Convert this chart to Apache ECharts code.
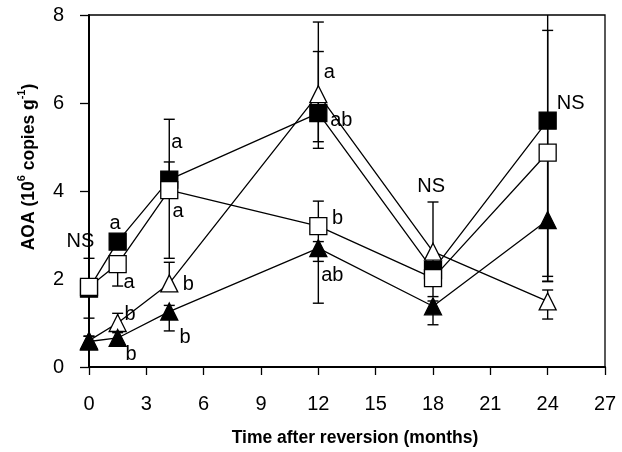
<!DOCTYPE html>
<html>
<head>
<meta charset="utf-8">
<script src="https://cdn.jsdelivr.net/npm/echarts@6/dist/echarts.min.js"></script>
<style>
html,body{margin:0;padding:0;background:#fff;}
#chart{width:622px;height:452px;}
</style>
</head>
<body>
<div id="chart"></div>
<script>
// ---- data ----
const months = [0, 1.5, 4.2, 12, 18, 24];
const xTicks = [0, 3, 6, 9, 12, 15, 18, 21, 24, 27];
const yTicks = [0, 2, 4, 6, 8];

const filledSquare   = [1.78, 2.85, 4.26, 5.77, 2.20, 5.60];
const openSquare     = [1.82, 2.34, 4.02, 3.20, 2.02, 4.87];
const openTriangle   = [0.60, 1.00, 1.90, 6.20, 2.62, 1.49];
const filledTriangle = [0.58, 0.66, 1.26, 2.70, 1.38, 3.34];

// error bar ends (upper / lower)
const filledSquareHi   = [2.47, 3.00, 4.66, 7.17, 2.50, 9.20];
const filledSquareLo   = [1.11, 2.70, 3.90, 4.97, 1.60, 2.06];
const openSquareHi     = [1.95, 2.50, 5.63, 3.77, 2.15, 7.65];
const openSquareLo     = [1.68, 1.84, 2.47, 2.40, 1.88, 1.95];
const openTriangleHi   = [0.70, 1.22, 2.38, 7.84, 3.75, 1.75];
const openTriangleLo   = [0.50, 0.85, 1.75, 5.12, 2.50, 1.09];
const filledTriangleHi = [0.70, 0.78, 1.40, 2.85, 1.50, 4.74];
const filledTriangleLo = [0.50, 0.55, 0.82, 1.45, 0.96, 1.94];

const noteText = ['NS', 'a', 'a', 'b', 'b', 'a', 'a', 'b', 'b', 'a', 'ab', 'b', 'ab', 'NS', 'NS'];
const noteX    = [-0.45, 1.36, 2.10, 2.15, 2.20, 4.60, 4.66, 5.20, 5.03, 12.57, 13.20, 13.00, 12.73, 17.90, 25.20];
const noteY    = [2.86, 3.27, 1.93, 1.20, 0.29, 5.10, 3.54, 1.88, 0.66, 6.69, 5.60, 3.38, 2.09, 4.10, 5.99];

const xName = 'Time after reversion (months)';
const yMax = 8;

// ---- build ----
function errSeries(hi, lo) {
  return {
    type: 'custom',
    z: 1,
    clip: false,
    silent: true,
    encode: { x: 0, y: [1, 2] },
    data: months.map((m, i) => [m, lo[i], hi[i]]),
    renderItem: function (params, api) {
      const x = api.value(0), l = api.value(1), h = api.value(2);
      const top = Math.min(h, yMax), bot = Math.max(l, 0);
      const pt = api.coord([x, top]), pb = api.coord([x, bot]);
      const w = 5.5;
      const st = { stroke: '#000', lineWidth: 1.4 };
      const ch = [{ type: 'line', shape: { x1: pt[0], y1: pt[1], x2: pb[0], y2: pb[1] }, style: st }];
      if (h <= yMax) ch.push({ type: 'line', shape: { x1: pt[0] - w, y1: pt[1], x2: pt[0] + w, y2: pt[1] }, style: st });
      if (l >= 0) ch.push({ type: 'line', shape: { x1: pb[0] - w, y1: pb[1], x2: pb[0] + w, y2: pb[1] }, style: st });
      return { type: 'group', children: ch };
    }
  };
}
function lineSeries(vals, symbol, fill, size) {
  return {
    type: 'line',
    z: 3,
    data: months.map((m, i) => [m, vals[i]]),
    symbol: symbol,
    symbolSize: size,
    showAllSymbol: true,
    lineStyle: { color: '#000', width: 1.3 },
    itemStyle: { color: fill, borderColor: '#000', borderWidth: 1.3, opacity: 1 },
    emphasis: { disabled: true },
    animation: false
  };
}

const chart = echarts.init(document.getElementById('chart'), null, { renderer: 'canvas' });
const FONT = '"Liberation Sans", Arial, Helvetica, sans-serif';

chart.setOption({
  animation: false,
  backgroundColor: '#fff',
  textStyle: { fontFamily: FONT },
  grid: { left: 89, right: 17, top: 15, bottom: 83.5, show: true, borderColor: '#000', borderWidth: 1.3, backgroundColor: 'transparent' },
  xAxis: {
    type: 'value', min: xTicks[0], max: xTicks[xTicks.length - 1], interval: 3,
    name: xName, nameLocation: 'middle', nameGap: 62,
    nameTextStyle: { fontFamily: FONT, fontWeight: 'bold', fontSize: 17.5, color: '#000', padding: [0, 0, 0, 16] },
    axisLine: { show: true, onZero: false, lineStyle: { color: '#000', width: 2 } },
    axisTick: { show: true, inside: false, length: 8, lineStyle: { color: '#000', width: 1.3 } },
    axisLabel: { color: '#000', fontSize: 20, fontFamily: FONT, margin: 27, formatter: v => xTicks.includes(v) ? String(v) : '' },
    splitLine: { show: false }
  },
  yAxis: {
    type: 'value', min: yTicks[0], max: yTicks[yTicks.length - 1], interval: 2,
    axisLine: { show: true, onZero: false, lineStyle: { color: '#000', width: 2 } },
    axisTick: { show: true, inside: false, length: 9, lineStyle: { color: '#000', width: 1.3 } },
    axisLabel: { color: '#000', fontSize: 20, fontFamily: FONT, margin: 25, formatter: v => yTicks.includes(v) ? String(v) : '' },
    splitLine: { show: false }
  },
  graphic: [{
    type: 'text',
    x: 27, y: 167,
    rotation: Math.PI / 2,
    style: {
      text: '{b|AOA (10}{s|6}{b| copies g}{s|-1}{b|)}',
      align: 'center', verticalAlign: 'middle',
      rich: {
        b: { fontFamily: FONT, fontWeight: 'bold', fontSize: 17.5, fill: '#000', lineHeight: 22, verticalAlign: 'bottom' },
        s: { fontFamily: FONT, fontWeight: 'bold', fontSize: 11, fill: '#000', lineHeight: 22, verticalAlign: 'top', padding: [0, 0, 10, 0] }
      }
    }
  }],
  series: [
    errSeries(filledSquareHi, filledSquareLo),
    errSeries(openSquareHi, openSquareLo),
    errSeries(openTriangleHi, openTriangleLo),
    errSeries(filledTriangleHi, filledTriangleLo),
    lineSeries(filledSquare, 'rect', '#000', 17),
    lineSeries(openSquare, 'rect', '#fff', 17),
    lineSeries(openTriangle, 'triangle', '#fff', 17),
    lineSeries(filledTriangle, 'triangle', '#000', 17),
    {
      type: 'custom',
      z: 5,
      clip: false,
      silent: true,
      encode: { x: 0, y: 1 },
      data: noteX.map((x, i) => [x, noteY[i], i]),
      renderItem: function (params, api) {
        const p = api.coord([api.value(0), api.value(1)]);
        return {
          type: 'text',
          x: p[0], y: p[1],
          style: { text: noteText[api.value(2)], fontFamily: FONT, fontSize: 20, fill: '#000', align: 'center', verticalAlign: 'middle' }
        };
      }
    }
  ]
});
</script>
</body>
</html>
